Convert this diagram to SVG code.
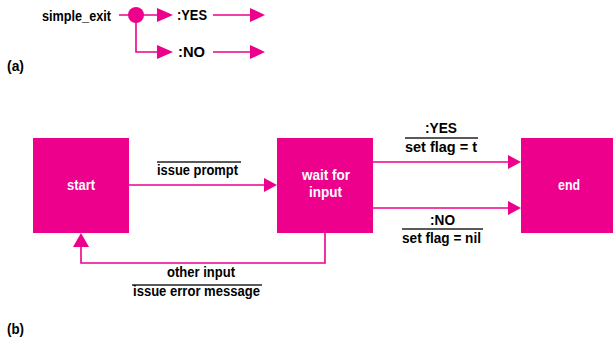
<svg xmlns="http://www.w3.org/2000/svg" width="613" height="341" viewBox="0 0 613 341">
<style>
.ln{stroke:#EC008C;stroke-width:1.6;fill:none}
.ah{fill:#EC008C}
.box{fill:#EC008C}
.t{font-family:"Liberation Sans",Arial,sans-serif;font-weight:bold;font-size:14.5px;fill:#000}
.w{font-family:"Liberation Sans",Arial,sans-serif;font-weight:bold;font-size:14px;fill:#fff}
.sep{stroke:#222;stroke-width:1.4}
</style>
<rect width="613" height="341" fill="#fff"/>
<g id="part-a">
<text class="t" x="42" y="21" textLength="69" lengthAdjust="spacingAndGlyphs">simple_exit</text>
<g id="conn-a">
<line class="ln" x1="119" y1="15" x2="158" y2="15"/>
<polygon class="ah" points="157,8 173,15 157,22"/>
<polyline class="ln" points="136,15 136,52 158,52"/>
<polygon class="ah" points="157,45 173,52 157,59"/>
<line class="ln" x1="213" y1="15" x2="251" y2="15"/>
<polygon class="ah" points="250,8 265,15 250,22"/>
<line class="ln" x1="213" y1="52" x2="251" y2="52"/>
<polygon class="ah" points="250,45 265,52 250,59"/>
</g>
<circle cx="136" cy="15" r="8" fill="#EC008C"/>
<text class="t" x="177" y="20" textLength="30" lengthAdjust="spacingAndGlyphs">:YES</text>
<text class="t" x="178" y="57" textLength="27" lengthAdjust="spacingAndGlyphs">:NO</text>
<text class="t" x="7" y="71" textLength="17" lengthAdjust="spacingAndGlyphs">(a)</text>
</g>
<g id="start"><rect class="box" x="33" y="138" width="96" height="95"/><text class="w" x="67" y="190" textLength="28" lengthAdjust="spacingAndGlyphs">start</text></g>
<g id="wait"><rect class="box" x="277" y="138" width="96" height="95"/><text class="w" x="302" y="180" textLength="48" lengthAdjust="spacingAndGlyphs">wait for</text><text class="w" x="309" y="197" textLength="33" lengthAdjust="spacingAndGlyphs">input</text></g>
<g id="end"><rect class="box" x="521" y="138" width="92" height="95"/><text class="w" x="558" y="190" textLength="22" lengthAdjust="spacingAndGlyphs">end</text></g>
<g id="connectors">
<line class="ln" x1="129" y1="185" x2="265" y2="185"/>
<polygon class="ah" points="264,178 277,185 264,192"/>
<polyline class="ln" points="325,233 325,263 81,263 81,246"/>
<polygon class="ah" points="73,247 81,233 89,247"/>
<line class="ln" x1="373" y1="162" x2="509" y2="162"/>
<polygon class="ah" points="508,155 521,162 508,169"/>
<line class="ln" x1="373" y1="208" x2="509" y2="208"/>
<polygon class="ah" points="508,201 521,208 508,215"/>
</g>
<g id="labels">
<line class="sep" x1="157" y1="162" x2="241" y2="162"/>
<text class="t" x="157" y="175" textLength="81" lengthAdjust="spacingAndGlyphs">issue prompt</text>
<text class="t" x="425" y="133" textLength="32" lengthAdjust="spacingAndGlyphs">:YES</text>
<line class="sep" x1="405" y1="138" x2="478" y2="138"/>
<text class="t" x="405" y="152" textLength="72" lengthAdjust="spacingAndGlyphs">set flag = t</text>
<text class="t" x="430" y="225" textLength="25" lengthAdjust="spacingAndGlyphs">:NO</text>
<line class="sep" x1="402" y1="229" x2="483" y2="229"/>
<text class="t" x="402" y="243" textLength="79" lengthAdjust="spacingAndGlyphs">set flag = nil</text>
<text class="t" x="167" y="277" textLength="68" lengthAdjust="spacingAndGlyphs">other input</text>
<line class="sep" x1="132" y1="285" x2="262" y2="285"/>
<text class="t" x="133" y="296" textLength="127" lengthAdjust="spacingAndGlyphs">issue error message</text>
</g>
<text class="t" x="7" y="334" textLength="17" lengthAdjust="spacingAndGlyphs">(b)</text>
</svg>
